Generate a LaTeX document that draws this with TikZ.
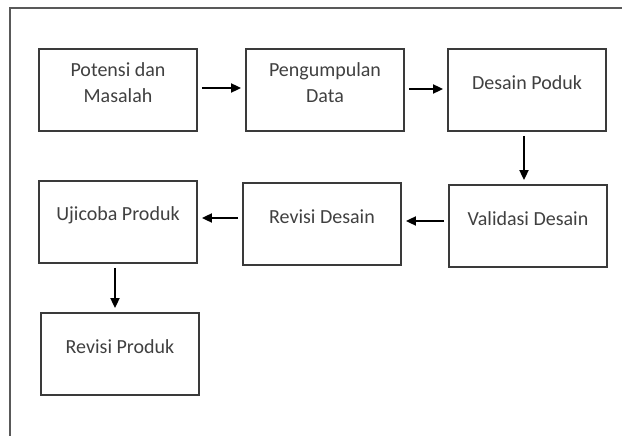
\documentclass[tikz,border=0pt]{standalone}
\usepackage{fontspec}
\setmainfont{Carlito}
\usetikzlibrary{arrows.meta}
\definecolor{boxline}{HTML}{3A3A3A}
\definecolor{boxtext}{HTML}{404040}
\tikzset{
  stepbox/.style={draw=boxline,line width=1.8pt,minimum width=158pt,minimum height=82pt,inner sep=0pt},
  steptext/.style={text=boxtext,align=center,font=\fontsize{20}{26}\selectfont,yshift=7pt},
  flow/.style={-{Triangle[length=10pt,width=9pt]},line width=1.8pt,draw=black,shorten <=4pt,shorten >=4pt}
}
\begin{document}
\begin{tikzpicture}[x=1pt,y=-1pt]
	\useasboundingbox (0,0) rectangle (622,436);
	% frame
	\draw[line width=1.8pt,draw=gray!70!black] (10,436) -- (10,8) -- (622,8);

	\node[stepbox,label={[steptext]center:Potensi dan\\Masalah}] (potensi) at (118,90) {};
	\node[stepbox,label={[steptext]center:Pengumpulan\\Data}] (pengumpulan) at (325,90) {};
	\node[stepbox,label={[steptext]center:Desain Poduk}] (desain) at (527,90) {};
	\node[stepbox,label={[steptext]center:Validasi Desain}] (validasi) at (528,226) {};
	\node[stepbox,label={[steptext]center:Revisi Desain}] (revisidesain) at (322,224) {};
	\node[stepbox,label={[steptext]center:Ujicoba Produk}] (ujicoba) at (118,222) {};
	\node[stepbox,label={[steptext]center:Revisi Produk}] (revisiproduk) at (120,354) {};

	\draw[flow] ([yshift=2pt]potensi.east) -- ([yshift=2pt]potensi.east -| pengumpulan.west);
	\draw[flow] ([yshift=1pt]pengumpulan.east) -- ([yshift=1pt]pengumpulan.east -| desain.west);
	\draw[flow] ([xshift=-3pt]desain.south) -- ([xshift=-3pt]desain.south |- validasi.north);
	\draw[flow] ([yshift=5pt]validasi.west) -- ([yshift=5pt]validasi.west -| revisidesain.east);
	\draw[flow] ([yshift=6pt]revisidesain.west) -- ([yshift=6pt]revisidesain.west -| ujicoba.east);
	\draw[flow] ([xshift=-3pt]ujicoba.south) -- ([xshift=-3pt]ujicoba.south |- revisiproduk.north);
\end{tikzpicture}
\end{document}
